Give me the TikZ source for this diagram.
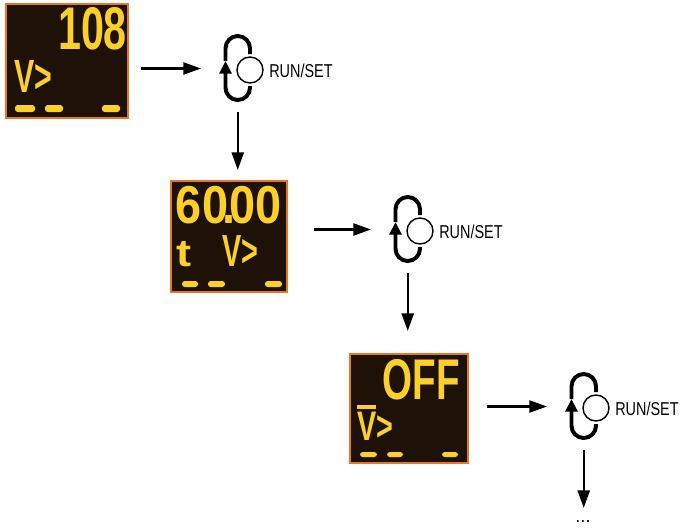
\documentclass[tikz,border=0pt]{standalone}
\usepackage{fontspec}
\setmainfont{Liberation Sans}
\usepackage{graphicx}
\usetikzlibrary{arrows.meta}

\definecolor{scrframe}{RGB}{232,120,30}
\definecolor{scrback}{RGB}{30,18,8}
\definecolor{segyellow}{RGB}{252,208,40}

\tikzset{
  screen/.style={draw=scrframe, fill=scrback, line width=1.4pt, inner sep=0pt},
  seg/.style={text=segyellow, inner sep=0pt, font=\bfseries},
  segbar/.style={fill=segyellow, rounded corners=2pt},
  flow/.style={-{Triangle[length=12.5pt,width=8.5pt]}, line width=1.6pt},
  keyring/.style={circle, draw, line width=1pt, minimum size=18.5pt, inner sep=0pt},
  keyloop/.style={line width=2.8pt},
  keylabel/.style={inner sep=0pt},
  runset/.pic={
    \node[keyring] (-key) at (0,0) {};
    \draw[keyloop, -{Triangle[length=9pt,width=8.5pt]}] (0,16) -- (0,17.75)
      arc[start angle=0, end angle=180, radius=12.25] -- (-24.5,-9);
    \draw[keyloop] (-24.5,-9) -- (-24.5,-21.75)
      arc[start angle=180, end angle=360, radius=12.25] -- (0,-16);
    \node[keylabel, anchor=west] (-label) at (19,1.3) {\resizebox{45pt}{9.6pt}{RUN/SET}};
    \coordinate (-in) at (-49,-1.5);
    \coordinate (-out) at (-12.25,42);
    \coordinate (-end) at (-12.25,100);
  }
}

\begin{document}
\begin{tikzpicture}[x=0.025cm, y=-0.025cm]
\useasboundingbox (0,0) rectangle (680,528);

% displays
\node[screen, minimum width=86.8pt, minimum height=81.1pt] (scr1) at (67,61) {};
\node[screen, minimum width=82.5pt, minimum height=79pt] (scr2) at (229,236.5) {};
\node[screen, minimum width=83.9pt, minimum height=77.5pt] (scr3) at (409,408.5) {};

% display 1
\node[seg] (val1) at (92.5,29) {\resizebox{49pt}{29.9pt}{108}};
\node[seg] (sym1) at (33,76) {\resizebox{27pt}{22.8pt}{V>}};
\foreach \a/\b in {15/35, 45/63, 102/120}
  \fill[segbar] (\a,105) rectangle (\b,112);

% display 2
\node[seg] (val2) at (229,205.5) {\resizebox{75.4pt}{26.5pt}{60\kern-0.12em.\kern-0.12em00}};
\node[seg] (unit2) at (184.5,254.5) {\resizebox{10.7pt}{17.8pt}{t}};
\node[seg] (sym2) at (240,251.5) {\resizebox{25.6pt}{22pt}{V>}};
\foreach \a/\b in {182/198, 208/225, 265/282}
  \fill[segbar] (\a,281) rectangle (\b,287);

% display 3
\node[seg] (val3) at (421.5,380) {\resizebox{54.8pt}{28.5pt}{OFF}};
\node[seg] (sym3) at (375,423) {\resizebox{25.6pt}{24.9pt}{\vbox{\hrule height 0.09em \kern 0.07em \hbox{V}}>}};
\foreach \a/\b in {360/377, 387/403, 442/458}
  \fill[segbar] (\a,452) rectangle (\b,457);

% keys
\pic (b1) at (250,70) {runset};
\pic (b2) at (420,231) {runset};
\pic (b3) at (596,408) {runset};

\node[inner sep=0pt, font=\fontsize{13}{13}\selectfont] (more) at (583,522) {...};

% arrows
\draw[flow, shorten <=8.5pt] (scr1.east |- b1-in) -- (b1-in);
\draw[flow] (b1-out) -- (b1-end);
\draw[flow, shorten <=18.5pt] (scr2.east |- b2-in) -- (b2-in);
\draw[flow] (b2-out) -- (b2-end);
\draw[flow, shorten <=12.8pt] (scr3.east |- b3-in) -- (b3-in);
\draw[flow] (b3-out) -- (b3-end);

\end{tikzpicture}
\end{document}
